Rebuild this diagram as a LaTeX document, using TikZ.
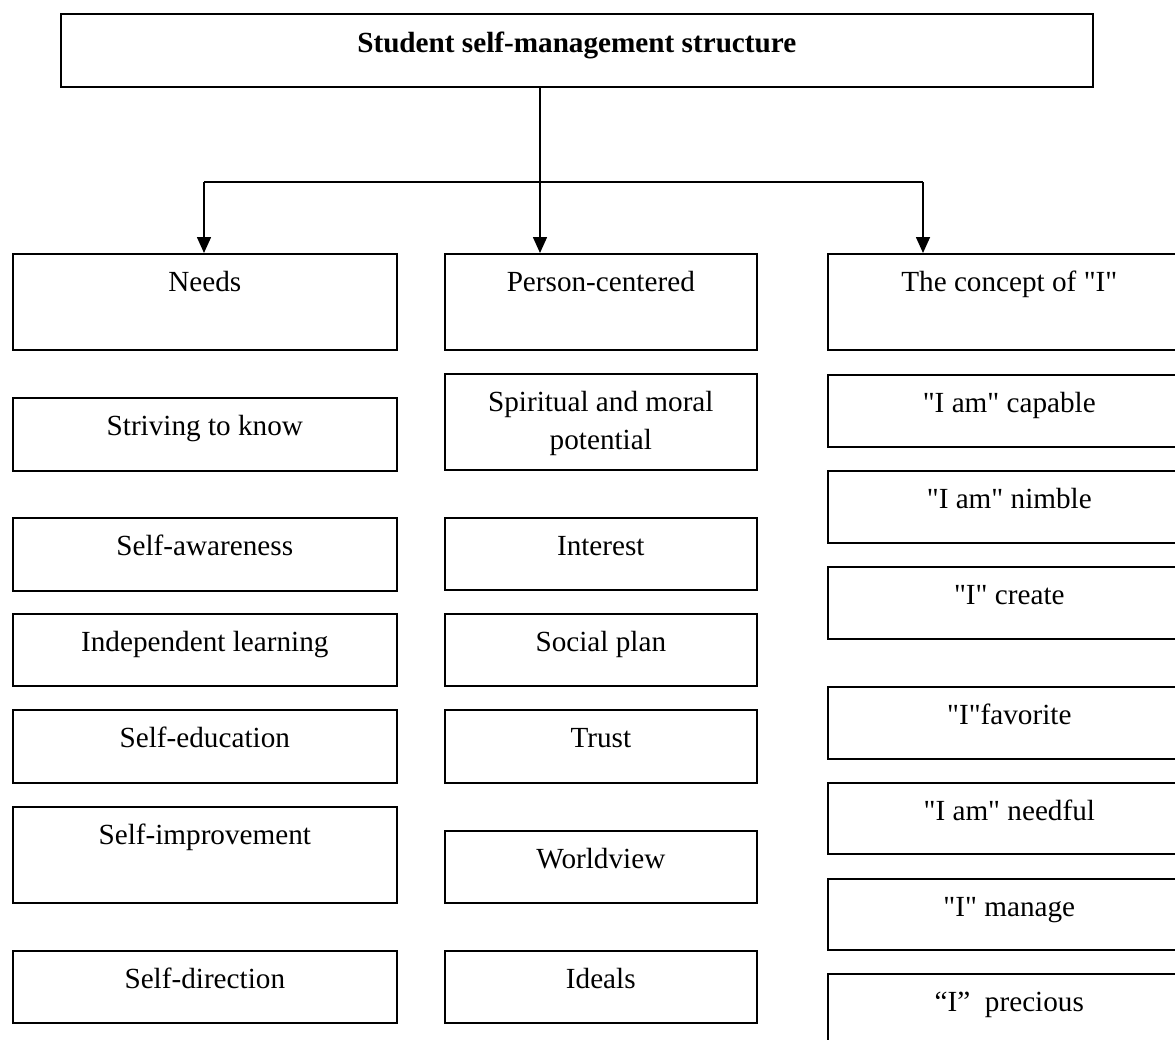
\documentclass[tikz,border=0pt]{standalone}
\usepackage{fontspec}
\setmainfont{Liberation Serif}[Ligatures=TeXOff]
\usetikzlibrary{arrows.meta}
\newcommand\dq{\char"22\relax}
\newcommand\mkbox[6]{%
  \node[box, minimum width=#4pt, minimum height=#5pt] (#1) at (#2,#3) {};
  \node[lbl] (#1t) at ([yshift=-38pt]#1.north) {#6};}
\begin{document}
\begin{tikzpicture}[x=1pt,y=-1pt,
  box/.style={draw, line width=1.6pt, inner sep=0pt, anchor=north west},
  lbl/.style={anchor=base, font=\fontsize{29.2}{38}\selectfont, align=center, inner sep=0pt},
  ln/.style={line width=1.6pt},
  arr/.style={line width=1.6pt, -{Triangle[length=16pt,width=14pt]}}]
\useasboundingbox (0,0) rectangle (1175,1039);
\clip (0,0) rectangle (1175,1039);
% title
\node[box, minimum width=1032pt, minimum height=73pt] (top) at (60,13) {};
\node[lbl, font=\fontsize{29.2}{38}\selectfont\bfseries] (topt) at ([yshift=-39pt]top.north) {Student self-management structure};
% left column
\mkbox{needs}{12}{253}{384}{96}{Needs}
\mkbox{l1}{12}{397}{384}{73}{Striving to know}
\mkbox{l2}{12}{517}{384}{73}{Self-awareness}
\mkbox{l3}{12}{613}{384}{72}{Independent learning}
\mkbox{l4}{12}{709}{384}{73}{Self-education}
\mkbox{l5}{12}{806}{384}{96}{Self-improvement}
\mkbox{l6}{12}{950}{384}{72}{Self-direction}
% middle column
\mkbox{pc}{444}{253}{312}{96}{Person-centered}
\node[box, minimum width=312pt, minimum height=96pt] (m1) at (444,373) {};
\node[lbl] (m1t) at ([yshift=-76pt]m1.north) {Spiritual and moral\\potential};
\mkbox{m2}{444}{517}{312}{72}{Interest}
\mkbox{m3}{444}{613}{312}{72}{Social plan}
\mkbox{m4}{444}{709}{312}{73}{Trust}
\mkbox{m5}{444}{830}{312}{72}{Worldview}
\mkbox{m6}{444}{950}{312}{72}{Ideals}
% right column
\mkbox{con}{827}{253}{363}{96}{The concept of \dq I\dq}
\mkbox{r1}{827}{374}{363}{72}{\dq I am\dq{} capable}
\mkbox{r2}{827}{470}{363}{72}{\dq I am\dq{} nimble}
\mkbox{r3}{827}{566}{363}{72}{\dq I\dq{} create}
\mkbox{r4}{827}{686}{363}{72}{\dq I\dq favorite}
\mkbox{r5}{827}{782}{363}{71}{\dq I am\dq{} needful}
\mkbox{r6}{827}{878}{363}{71}{\dq I\dq{} manage}
\mkbox{r7}{827}{973}{363}{100}{“I”\ \ precious}
% connectors
\coordinate (j) at (540,182);
\coordinate (hl) at (204,182);
\coordinate (hr) at (923,182);
\draw[arr] (top.south -| j) -- (pc.north -| j);
\draw[ln] (hl) -- (hr);
\draw[arr] (hl) -- (hl |- needs.north);
\draw[arr] (hr) -- (hr |- con.north);
\end{tikzpicture}
\end{document}
